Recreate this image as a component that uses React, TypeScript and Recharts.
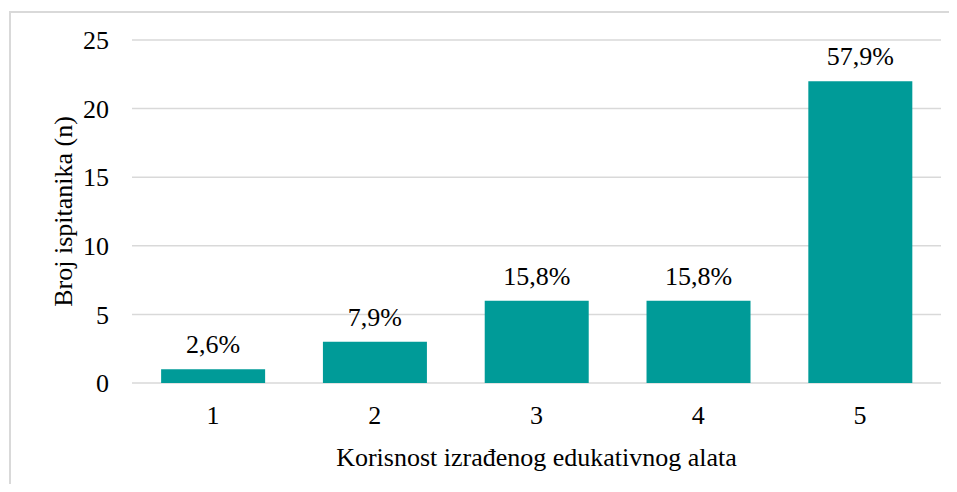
import { BarChart, Bar, XAxis, YAxis, CartesianGrid, LabelList, Label } from 'recharts';

const categories = ['1', '2', '3', '4', '5'];
const counts = [1, 3, 6, 6, 22];
const percentLabels = ['2,6%', '7,9%', '15,8%', '15,8%', '57,9%'];
const yTicks = [0, 5, 10, 15, 20, 25];

const data = categories.map((name, i) => ({ name, count: counts[i], pct: percentLabels[i] }));

const FONT = 'Times New Roman';
const TEAL = '#009b98';

const YTitle = (props: any) => {
    const vb = props.viewBox;
    const x = vb.x + 52;
    const y = vb.y + vb.height / 2;
    return (
        <text
            x={x}
            y={y}
            transform={`rotate(-90 ${x} ${y})`}
            textAnchor="middle"
            fill="#000"
            fontSize={26}
            fontFamily={FONT}
            style={{ fontFamily: FONT }}
        >
            Broj ispitanika (n)
        </text>
    );
};

const PctLabel = (props: any) => {
    const { x, y, width, value } = props;
    return (
        <text
            x={x + width / 2}
            y={y - 16}
            textAnchor="middle"
            fill="#000"
            fontSize={26}
            fontFamily={FONT}
            style={{ fontFamily: FONT }}
        >
            {value}
        </text>
    );
};

export default function App() {
    return (
        <div style={{ position: 'relative', margin: -8, width: 957, height: 492, overflow: 'hidden', fontFamily: FONT }}>
            <div
                style={{
                    position: 'absolute',
                    left: 9,
                    top: 11,
                    width: 1000,
                    height: 600,
                    border: '2px solid #d9d9d9',
                }}
            />
            <div style={{ position: 'absolute', left: 12, top: 14 }}>
                <BarChart
                    width={945}
                    height={478}
                    data={data}
                    margin={{ top: 26, right: 16, bottom: 18, left: 8 }}
                    barCategoryGap="18%"
                    style={{ fontFamily: FONT }}
                >
                    <CartesianGrid vertical={false} stroke="#d9d9d9" strokeWidth={1.5} />
                    <XAxis
                        dataKey="name"
                        height={91}
                        axisLine={false}
                        tickLine={false}
                        tickSize={0}
                        tickMargin={23}
                        tick={{ fontSize: 26, fill: '#000', fontFamily: FONT }}
                    >
                        <Label
                            value="Korisnost izrađenog edukativnog alata"
                            position="insideBottom"
                            offset={8}
                            fill="#000"
                            fontSize={26}
                            fontFamily={FONT}
                            style={{ fontFamily: FONT }}
                        />
                    </XAxis>
                    <YAxis
                        width={112}
                        domain={[0, 25]}
                        ticks={yTicks}
                        axisLine={false}
                        tickLine={false}
                        tickSize={0}
                        tickMargin={23}
                        tick={{ fontSize: 26, fill: '#000', fontFamily: FONT }}
                    >
                        <Label content={YTitle} />
                    </YAxis>
                    <Bar dataKey="count" fill={TEAL} isAnimationActive={false}>
                        <LabelList dataKey="pct" content={PctLabel} />
                    </Bar>
                </BarChart>
            </div>
        </div>
    );
}
